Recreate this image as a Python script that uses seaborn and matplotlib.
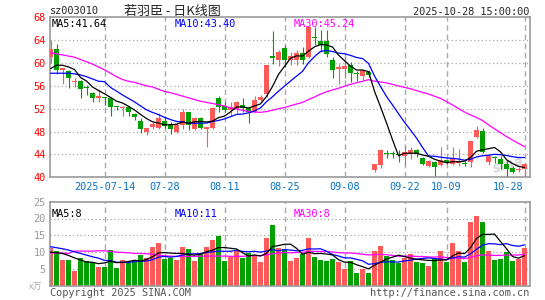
import numpy as np
import pandas as pd
import matplotlib
matplotlib.use("Agg")
import matplotlib.pyplot as plt
import seaborn as sns

# daily OHLC (万手 volume), 2025-07-01 .. 2025-10-28
opens = [61.1, 62.4, 58.7, 58.6, 56.6, 56.8, 55.7, 54.8, 53.9, 54.0,
         53.9, 52.4, 52.2, 52.3, 51.1, 49.8, 48.0, 48.8, 48.6, 49.8,
         49.4, 48.0, 49.2, 51.4, 48.5, 50.4, 48.4, 48.6, 53.8, 52.5,
         51.7, 52.0, 52.6, 52.1, 51.5, 53.5, 54.6, 61.2, 60.5, 62.7,
         60.5, 60.5, 61.8, 61.0, 64.5, 63.8, 63.8, 60.5, 58.9, 58.9,
         59.7, 58.2, 57.7, 58.4, 41.2, 42.1, 44.1, 44.1, 44.0, 43.8,
         44.1, 44.7, 43.4, 41.9, 42.6, 42.1, 43.0, 42.4, 42.5, 42.4,
         42.7, 47.0, 48.1, 42.7, 43.6, 43.2, 42.4, 41.6, 41.3, 41.4]
highs = [64.0, 63.4, 59.2, 58.7, 57.4, 57.0, 56.2, 54.9, 55.4, 54.1,
         54.1, 52.5, 52.5, 52.5, 51.2, 50.3, 48.7, 49.7, 51.2, 50.8,
         49.7, 49.7, 51.9, 51.5, 50.5, 50.5, 48.8, 52.3, 54.2, 53.1,
         53.1, 53.3, 53.8, 52.3, 54.2, 54.4, 59.7, 65.5, 62.3, 63.1,
         62.0, 62.2, 62.8, 66.5, 66.3, 65.8, 65.8, 61.1, 59.9, 61.1,
         60.2, 58.6, 58.9, 58.7, 42.4, 45.0, 44.7, 44.6, 44.7, 45.6,
         45.3, 45.0, 43.5, 43.1, 42.8, 45.3, 43.2, 45.3, 45.0, 42.8,
         46.4, 48.9, 48.7, 44.1, 43.8, 43.8, 43.0, 42.0, 41.8, 42.4]
lows = [60.0, 58.0, 56.4, 55.6, 55.8, 53.8, 54.4, 53.1, 53.1, 52.7,
        50.8, 51.7, 50.8, 50.8, 50.0, 47.8, 47.4, 48.5, 48.5, 48.7,
        47.6, 47.8, 48.5, 48.2, 48.2, 48.4, 45.3, 48.5, 51.4, 51.4,
        50.8, 51.1, 51.4, 49.5, 51.4, 53.1, 54.0, 59.9, 59.5, 59.3,
        59.6, 59.6, 59.9, 60.8, 63.1, 62.0, 61.1, 57.3, 56.4, 57.3,
        56.7, 56.9, 57.0, 57.6, 41.0, 41.6, 43.4, 43.3, 42.7, 42.1,
        43.2, 43.5, 42.1, 41.8, 40.1, 41.9, 42.4, 42.2, 42.0, 41.9,
        41.8, 46.8, 44.2, 42.1, 42.5, 41.5, 40.0, 40.8, 40.9, 39.7]
closes = [62.4, 58.7, 59.1, 57.4, 56.7, 55.4, 55.6, 53.9, 54.3, 53.8,
          52.3, 52.3, 52.3, 51.4, 50.6, 48.4, 48.7, 49.4, 50.4, 49.0,
          48.4, 49.2, 51.4, 49.2, 50.4, 48.6, 48.8, 52.1, 52.3, 51.7,
          52.3, 53.1, 52.1, 51.4, 53.5, 54.1, 59.6, 60.8, 62.0, 60.5,
          61.2, 61.7, 60.6, 66.3, 64.3, 63.1, 61.5, 58.7, 59.3, 59.4,
          58.3, 58.1, 58.7, 57.9, 42.25, 44.7, 44.0, 44.0, 43.9, 44.4,
          44.8, 44.0, 42.4, 42.8, 41.8, 43.1, 42.7, 43.2, 42.8, 42.3,
          46.3, 48.2, 44.4, 43.8, 43.4, 42.4, 41.4, 41.0, 41.4, 42.3]
volumes = [11.3, 10.4, 7.65, 7.65, 4.4, 8.1, 7.45, 7.2, 5.6, 5.6,
           10.6, 5.3, 7.65, 6.9, 7.45, 9.1, 8.1, 11.4, 12.8, 7.9,
           8.3, 7.65, 11.4, 10.9, 7.35, 9.6, 11.4, 13.6, 14.8, 7.35,
           8.6, 10.3, 8.1, 9.8, 8.9, 7.15, 14.3, 18.1, 11.3, 10.8,
           7.35, 8.1, 9.3, 14.3, 8.6, 7.65, 7.35, 7.95, 7.15, 4.97,
           7.35, 3.9, 4.97, 3.9, 10.3, 11.8, 8.8, 7.65, 6.85, 8.3,
           9.4, 7.15, 6.85, 5.9, 8.1, 10.3, 7.15, 12.8, 10.3, 7.15,
           19.1, 20.7, 19.1, 10.3, 7.65, 7.95, 10.1, 7.35, 7.95, 11.3]

# moving-average values before the window is full
ma5_head = [59.0, 59.6, 59.6, 59.3]
ma10_head = [58.2, 58.2, 58.2, 58.2, 58.1, 57.9, 57.6, 57.2, 56.8]
ma30_head = [61.8, 61.6, 61.4, 61.2, 61.0, 60.6, 60.2, 59.8, 59.3, 58.8,
             58.2, 57.6, 57.1, 56.8, 56.6, 56.3, 56.0, 55.8, 55.4, 55.0,
             54.8, 54.5, 54.2, 53.9, 53.6, 53.3, 53.1, 52.9, 52.7]
vma5_head = [10.0, 9.8, 9.6, 9.0]
vma10_head = [11.6, 11.3, 11.0, 10.6, 10.1, 9.6, 9.1, 8.6, 8.2]
vma30_head = [9.8, 9.7, 9.7, 9.6, 10.3, 10.3, 10.3, 10.3, 10.4, 10.4,
              10.2, 10.0, 9.9, 9.8, 9.6, 9.6, 9.5, 9.4, 9.1, 8.9,
              8.8, 8.7, 8.7, 8.7, 8.7, 8.8, 8.8, 8.8, 8.8]

date_pos = [9, 19, 29, 39, 49, 59, 66, 79]
date_labels = ["2025-07-14", "07-28", "08-11", "08-25", "09-08", "09-22", "10-09", "10-28"]
price_ticks = [40, 44, 48, 52, 56, 60, 64, 68]
vol_ticks = [5, 10, 15, 20, 25]

RED = "#ff5a5a"
GREEN = "#00a000"
GRID = "#aaaaaa"
MONO = ["DejaVu Sans Mono", "Noto Sans CJK SC"]


def moving(values, n, head):
    s = pd.Series(values, dtype=float).rolling(n).mean()
    s.iloc[:len(head)] = head
    return s.values


sns.set_style("white")
plt.rcParams["font.family"] = MONO

df = pd.DataFrame({"o": opens, "h": highs, "l": lows, "c": closes, "v": volumes})
df["i"] = np.arange(len(df))
df["up"] = df["c"] >= df["o"]
df["col"] = np.where(df["up"], RED, GREEN)

W, H = 545, 300
fig = plt.figure(figsize=(W / 100, H / 100), dpi=100)


def box(x0, y0, x1, y1):
    return [x0 / W, 1 - y1 / H, (x1 - x0) / W, (y1 - y0) / H]


ax_p = fig.add_axes(box(50, 17.2, 530, 177.3))
ax_v = fig.add_axes(box(50, 201.7, 530, 285.7))
xlim = ((50 - 50.5) / 6, (530 - 50.5) / 6)

for ax in (ax_p, ax_v):
    ax.set_xlim(*xlim)
    ax.set_xticks([])
    for sp in ax.spines.values():
        sp.set_color("#999999")
        sp.set_linewidth(1.2)
    for p in date_pos:
        ax.axvline(p, color=GRID, lw=1.0, ls=(0, (4, 2.6)), zorder=0)

# ---------------- price panel ----------------
ax_p.set_ylim(40, 68)
for t in price_ticks[1:-1]:
    ax_p.axhline(t, color=GRID, lw=0.9, ls=(0, (1, 2)), zorder=0)
ax_p.set_yticks(price_ticks)
ax_p.set_yticklabels([str(t) for t in price_ticks], color="red", fontsize=7.4)
ax_p.tick_params(axis="y", length=0, pad=3)

ax_p.vlines(df["i"], df["l"], df["h"], colors=df["col"], lw=0.8, zorder=2)
body = (df["c"] - df["o"]).abs().clip(lower=0.18)
ax_p.bar(df["i"], body, bottom=df[["o", "c"]].min(axis=1), width=0.8,
         color=df["col"], linewidth=0, zorder=3)

ma_df = pd.DataFrame({"i": df["i"],
                      "ma5": moving(closes, 5, ma5_head),
                      "ma10": moving(closes, 10, ma10_head),
                      "ma30": moving(closes, 30, ma30_head)})
sns.lineplot(data=ma_df, x="i", y="ma30", color="#ff00ff", lw=0.9, ax=ax_p, zorder=4)
sns.lineplot(data=ma_df, x="i", y="ma10", color="#0000ff", lw=0.9, ax=ax_p, zorder=4)
sns.lineplot(data=ma_df, x="i", y="ma5", color="black", lw=0.9, ax=ax_p, zorder=5)
ax_p.set_xlabel("")
ax_p.set_ylabel("")

ax_p.text(2 / 480, 0.955, "MA5:41.64", transform=ax_p.transAxes,
          color="black", fontsize=7.4, va="center")
ax_p.text(125 / 480, 0.955, "MA10:43.40", transform=ax_p.transAxes,
          color="#0000ff", fontsize=7.4, va="center")
ax_p.text(244 / 480, 0.955, "MA30:45.24", transform=ax_p.transAxes,
          color="#ff00ff", fontsize=7.4, va="center")
ax_p.text(0.955, 0.08, "sina", transform=ax_p.transAxes, color="#d8d8d8", fontsize=10,
          fontweight="bold", style="italic", ha="center", va="center", rotation=15,
          family="DejaVu Sans", zorder=1)

# date labels under the price panel
for p, lab in zip(date_pos, date_labels):
    if p == date_pos[-1]:
        ax_p.text((523 - 50.5) / 6, -0.06, lab, transform=ax_p.get_xaxis_transform(),
                  ha="right", va="center", color="#0a74c9", fontsize=7.4)
    else:
        ax_p.text(p, -0.06, lab, transform=ax_p.get_xaxis_transform(),
                  ha="center", va="center", color="#0a74c9", fontsize=7.4)

# ---------------- volume panel ----------------
ax_v.set_ylim(0, 25)
for t in vol_ticks[:-1]:
    ax_v.axhline(t, color=GRID, lw=0.9, ls=(0, (1, 2)), zorder=0)
ax_v.set_yticks(vol_ticks)
ax_v.set_yticklabels([str(t) for t in vol_ticks], color="#999999", fontsize=7.4)
ax_v.tick_params(axis="y", length=0, pad=3)
ax_v.bar(df["i"], df["v"], width=0.8, color=df["col"], linewidth=0, zorder=2)

vma_df = pd.DataFrame({"i": df["i"],
                       "ma5": moving(volumes, 5, vma5_head),
                       "ma10": moving(volumes, 10, vma10_head),
                       "ma30": moving(volumes, 30, vma30_head)})
sns.lineplot(data=vma_df, x="i", y="ma30", color="#ff00ff", lw=0.9, ax=ax_v, zorder=4)
sns.lineplot(data=vma_df, x="i", y="ma10", color="#0000ff", lw=0.9, ax=ax_v, zorder=4)
sns.lineplot(data=vma_df, x="i", y="ma5", color="black", lw=0.9, ax=ax_v, zorder=5)
ax_v.set_xlabel("")
ax_v.set_ylabel("")

ax_v.text(2 / 480, 0.85, "MA5:8", transform=ax_v.transAxes, color="black", fontsize=7.4, va="center")
ax_v.text(125 / 480, 0.85, "MA10:11", transform=ax_v.transAxes, color="#0000ff", fontsize=7.4, va="center")
ax_v.text(244 / 480, 0.85, "MA30:8", transform=ax_v.transAxes, color="#ff00ff", fontsize=7.4, va="center")

# ---------------- header / footer ----------------
fig.text(50 / W, 1 - 11 / H, "sz003010", fontsize=7.4, va="center", ha="left")
fig.text(172 / W, 1 - 11 / H, "若羽臣 - 日K线图", fontsize=9.4, va="center", ha="center",
         family=["Noto Sans CJK SC", "DejaVu Sans"])
fig.text(529 / W, 1 - 12 / H, "2025-10-28 15:00:00", fontsize=7.4, va="center", ha="right")
fig.text(50 / W, 1 - 293 / H, "Copyright 2025 SINA.COM", fontsize=7.4, va="center",
         ha="left", color="#555555")
fig.text(529 / W, 1 - 293 / H, "http://finance.sina.com.cn", fontsize=7.4, va="center",
         ha="right", color="#555555")
fig.text(36 / W, 1 - 287 / H, "x万", fontsize=6.5, va="center", ha="center", color="#aaaaaa",
         family=["Noto Sans CJK SC", "DejaVu Sans"])

fig.savefig("out.png", dpi=100)
